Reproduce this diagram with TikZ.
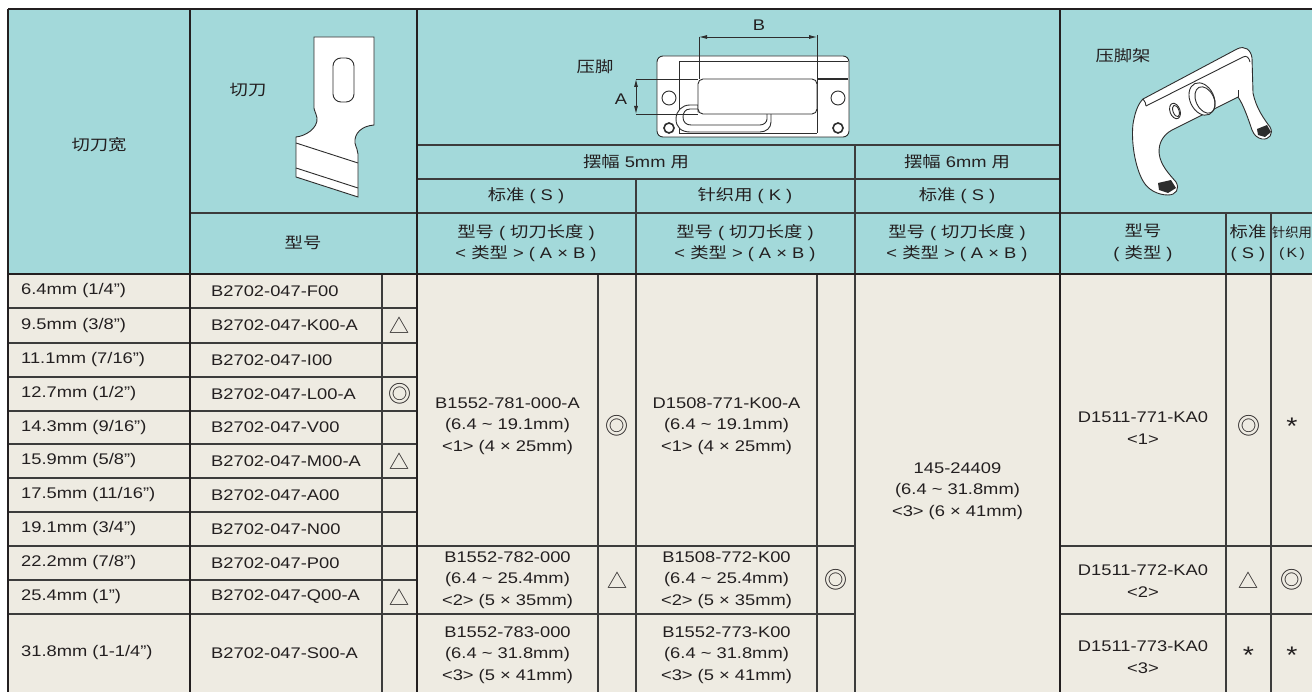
\documentclass[tikz,border=0pt]{standalone}
\usepackage{fontspec}
\usetikzlibrary{arrows.meta}
\setmainfont{Liberation Sans}[FakeStretch=1.19]
\newfontfamily\cjk{Noto Sans CJK SC}[FakeStretch=1.19]
\newfontfamily\cjknarrow{Noto Sans CJK SC}
\newfontfamily\symf{Noto Sans CJK SC}
\newcommand\tabfs{\fontsize{15.4}{21.7}\selectfont}
\newcommand\smallhdfs{\fontsize{13.4}{20}\selectfont}
\newcommand\symfs{\symf\fontsize{20}{20}\selectfont}
\newcommand\dblfs{\symf\fontsize{23}{23}\selectfont}
\newcommand\astfs{\fontsize{24}{24}\selectfont}
\newcommand\tld{{\char"7E}}
\definecolor{hdrc}{RGB}{163,217,218}
\definecolor{bodyc}{RGB}{238,235,226}
\definecolor{linec}{RGB}{35,31,32}
\definecolor{linec2}{RGB}{60,60,60}
\definecolor{txtc}{RGB}{35,31,32}
\definecolor{partc}{RGB}{45,45,45}
\begin{document}
\begin{tikzpicture}[x=1pt,y=-1pt,
  thk/.style={line width=2.6pt,draw=linec},
  thn/.style={line width=1.5pt,draw=linec2},
  txt/.style={inner sep=0pt,align=center,font=\tabfs,text=txtc},
  lft/.style={txt,anchor=west},
  sym/.style={inner sep=0pt,font=\symfs,text=txtc},
  dbl/.style={inner sep=0pt,font=\dblfs,text=txtc},
  ast/.style={inner sep=0pt,font=\astfs,text=txtc},
  part/.style={draw=partc,line width=0.9pt,fill=white},
  partline/.style={draw=partc,line width=0.9pt},
  dim/.style={draw=partc,line width=0.8pt},
]
\useasboundingbox (0,0) rectangle (1312,692);
% backgrounds
\fill[hdrc] (8,9) rectangle (1312,274);
\fill[bodyc] (8,274) rectangle (1312,692);

% ---------- thin lines ----------
% header
\draw[thn] (190,213) -- (417,213);
\draw[thn] (417,145) -- (1060,145);
\draw[thn] (417,179) -- (1060,179);
\draw[thn] (417,213) -- (1060,213);
\draw[thn] (1060,213) -- (1312,213);
\draw[thn] (855,145) -- (855,692);
\draw[thn] (636,179) -- (636,692);
\draw[thn] (1226,213) -- (1226,692);
\draw[thn] (1271,213) -- (1271,692);
% body
\draw[thn] (382,274) -- (382,692);
\draw[thn] (598,274) -- (598,692);
\draw[thn] (817,274) -- (817,692);
\foreach \yy in {308,343,377,411,444,478,512,546,580,614}
  \draw[thn] (8,\yy) -- (417,\yy);
\foreach \yy in {546,614} {
  \draw[thn] (417,\yy) -- (855,\yy);
  \draw[thn] (1060,\yy) -- (1312,\yy);
}
\draw[line width=2pt,draw=linec] (8,274) -- (1312,274);
% ---------- thick lines ----------
\draw[thk] (8,9) -- (1312,9);
\foreach \xx in {8,190,417,1060}
  \draw[thk] (\xx,9) -- (\xx,692);

% ---------- cutter drawing ----------
\draw[part] (314,37) -- (374,37) -- (374,125)
  .. controls (362,126) and (354,133) .. (355,143)
  .. controls (356,148) and (358,150) .. (358,154)
  -- (358,197) -- (296,177) -- (296,137)
  .. controls (306,136) and (318,128) .. (317,118)
  .. controls (316,113) and (314,110) .. (314,108) -- cycle;
\draw[partline] (296,143) -- (358,163);
\draw[partline] (296,168) -- (358,188);
\draw[partline,rounded corners=8pt] (333,58) rectangle (354,102);

% ---------- presser foot drawing ----------
\draw[part,rounded corners=6pt] (657,56) rectangle (849,137);
\draw[partline] (679,133) -- (679,61) -- (848,61);
\draw[partline] (679,133) -- (817,133);
\draw[partline] (817,35) -- (817,133);
\draw[draw=partc,line width=2.2pt] (817,79) -- (848,79);
\draw[part] (698,105) -- (690,105)
  .. controls (682,105) and (676,111) .. (676,119)
  .. controls (676,127) and (681,132) .. (690,132) -- (760,132)
  .. controls (766,132) and (771,128) .. (771,122) -- (771,112) -- (698,112) -- cycle;
\draw[partline] (698,109) -- (690,109)
  .. controls (685,109) and (683,113) .. (683,117)
  .. controls (683,122) and (686,125) .. (691,125) -- (760,125)
  .. controls (764,125) and (767,122) .. (767,119) -- (767,114);
\draw[part,rounded corners=5pt] (698,79) rectangle (817,114);
\draw[partline] (669,98) circle [radius=7];
\draw[partline] (838,98) circle [radius=7];
\draw[draw=partc,line width=1.6pt] (669,128) circle [radius=5];
\draw[draw=partc,line width=1.6pt] (838,128) circle [radius=5];
% dimensions
\coordinate (bl) at (699,37);
\coordinate (br) at (817,37);
\coordinate (at) at (636,79);
\coordinate (ab) at (636,114);
\draw[dim,{Latex[length=8pt,width=4pt]}-{Latex[length=8pt,width=4pt]}] (bl) -- (br);
\draw[dim] (bl) -- (699,79);
\draw[dim,{Latex[length=8pt,width=4pt]}-{Latex[length=8pt,width=4pt]}] (at) -- (ab);
\draw[dim] (at) -- (698,79);
\draw[dim] (ab) -- (698,114);

% ---------- presser foot holder drawing ----------
\draw[part] (1143,99) -- (1237,49)
  .. controls (1245,45) and (1251,50) .. (1252,58)
  -- (1253,93)
  .. controls (1256,108) and (1264,119) .. (1270,127)
  .. controls (1274,134) and (1269,140) .. (1262,139)
  .. controls (1257,138) and (1254,135) .. (1252,130)
  .. controls (1248,118) and (1243,104) .. (1238,97)
  -- (1172,130)
  .. controls (1161,136) and (1157,147) .. (1160,158)
  .. controls (1163,168) and (1170,175) .. (1176,182)
  .. controls (1180,189) and (1176,195) .. (1168,195)
  .. controls (1158,195) and (1148,190) .. (1143,181)
  .. controls (1135,167) and (1131,142) .. (1133,124)
  .. controls (1135,112) and (1138,104) .. (1143,99) -- cycle;
\draw[partline] (1146,106) -- (1243,57) .. controls (1247,55) and (1249,58) .. (1250,62);
\draw[partline] (1143,99) .. controls (1145,101) and (1146,104) .. (1146,106);
\draw[partline] (1238,97) -- (1238,90);
\draw[part,rotate around={20:(1175,111)}] (1175,111) ellipse [x radius=5, y radius=8];
\draw[partline,rotate around={20:(1176,111)}] (1176,111) ellipse [x radius=3, y radius=6];
\draw[part,rotate around={25:(1202,99)}] (1202,99) ellipse [x radius=12, y radius=17];
\draw[partline,rotate around={25:(1205,100)}] (1205,100) ellipse [x radius=9, y radius=14];
\fill[partc] (1158,183) -- (1171,180) -- (1176,188) -- (1168,193) -- (1159,190) -- cycle;
\fill[partc] (1257,129) -- (1267,125) -- (1271,132) -- (1265,137) -- (1258,135) -- cycle;

% ---------- header texts ----------
\node[txt] (hwidth) at (99,145) {\cjk 切刀宽};
\node[txt] (hcut) at (248,90) {\cjk 切刀};
\node[txt] (hmodel) at (303,243) {\cjk 型号};
\node[txt] (hfoot) at (595,67) {\cjk 压脚};
\node[txt] (dimA) at (621,99) {A};
\node[txt] (dimB) at (759,25) {B};
\node[txt] (h5mm) at (636,162) {{\cjk 摆幅} 5mm {\cjk 用}};
\node[txt] (h6mm) at (957,162) {{\cjk 摆幅} 6mm {\cjk 用}};
\node[txt] (hstdS1) at (526,196) {{\cjk 标准} ( S )};
\node[txt] (hknitK) at (745,196) {{\cjk 针织用} ( K )};
\node[txt] (hstdS2) at (957,196) {{\cjk 标准} ( S )};
\node[txt] (hm1) at (526,243) {{\cjk 型号} ( {\cjk 切刀长度} )\\< {\cjk 类型} > ( A × B )};
\node[txt] (hm2) at (745,243) {{\cjk 型号} ( {\cjk 切刀长度} )\\< {\cjk 类型} > ( A × B )};
\node[txt] (hm3) at (957,243) {{\cjk 型号} ( {\cjk 切刀长度} )\\< {\cjk 类型} > ( A × B )};
\node[txt] (hholder) at (1123,56) {\cjk 压脚架};
\node[txt] (hm4) at (1143,243) {{\cjk 型号}\\( {\cjk 类型} )};
\node[txt] (hs4) at (1248,243) {{\cjk 标准}\\( S )};
\node[txt,font=\smallhdfs] (hk4) at (1292,243) {{\cjknarrow 针织用}\\(\,K\,)};

% ---------- body: left columns ----------
\foreach \yy/\aa/\bb [count=\i] in {
  291/{6.4mm (1/4”)}/B2702-047-F00,
  325.5/{9.5mm (3/8”)}/B2702-047-K00-A,
  360/{11.1mm (7/16”)}/B2702-047-I00,
  394/{12.7mm (1/2”)}/B2702-047-L00-A,
  427.5/{14.3mm (9/16”)}/B2702-047-V00,
  461/{15.9mm (5/8”)}/B2702-047-M00-A,
  495/{17.5mm (11/16”)}/B2702-047-A00,
  529/{19.1mm (3/4”)}/B2702-047-N00,
  563/{22.2mm (7/8”)}/B2702-047-P00,
  597/{25.4mm (1”)}/B2702-047-Q00-A,
  653/{31.8mm (1-1/4”)}/B2702-047-S00-A} {
  \node[lft] (w\i) at (21,\yy) {\aa};
  \node[lft] (p\i) at (211,\yy) {\bb};
}
\node[sym] (s2) at (399.5,325.5) {△};
\node[dbl] (s4) at (399.5,394) {◎};
\node[sym] (s6) at (399.5,461) {△};
\node[sym] (s10) at (399.5,597) {△};

% ---------- body: presser feet ----------
\node[txt] (c1) at (507.5,426) {B1552-781-000-A\\(6.4 \tld\ 19.1mm)\\<1> (4 × 25mm)};
\node[txt] (c2) at (507.5,580) {B1552-782-000\\(6.4 \tld\ 25.4mm)\\<2> (5 × 35mm)};
\node[txt] (c3) at (507.5,655) {B1552-783-000\\(6.4 \tld\ 31.8mm)\\<3> (5 × 41mm)};
\node[dbl] (d1) at (617,426) {◎};
\node[sym] (d2) at (617,580) {△};
\node[txt] (e1) at (726.5,426) {D1508-771-K00-A\\(6.4 \tld\ 19.1mm)\\<1> (4 × 25mm)};
\node[txt] (e2) at (726.5,580) {B1508-772-K00\\(6.4 \tld\ 25.4mm)\\<2> (5 × 35mm)};
\node[txt] (e3) at (726.5,655) {B1552-773-K00\\(6.4 \tld\ 31.8mm)\\<3> (5 × 41mm)};
\node[dbl] (f2) at (836,580) {◎};
\node[txt] (g1) at (957.5,491) {145-24409\\(6.4 \tld\ 31.8mm)\\<3> (6 × 41mm)};

% ---------- body: holders ----------
\node[txt] (h1) at (1143,428) {D1511-771-KA0\\<1>};
\node[txt] (h2) at (1143,581) {D1511-772-KA0\\<2>};
\node[txt] (h3) at (1143,657) {D1511-773-KA0\\<3>};
\node[dbl] (i1) at (1248.5,426) {◎};
\node[sym] (i2) at (1248.5,580) {△};
\node[ast] (i3) at (1248.5,655) {*};
\node[ast] (j1) at (1292,426) {*};
\node[dbl] (j2) at (1292,580) {◎};
\node[ast] (j3) at (1292,655) {*};
\end{tikzpicture}
\end{document}
